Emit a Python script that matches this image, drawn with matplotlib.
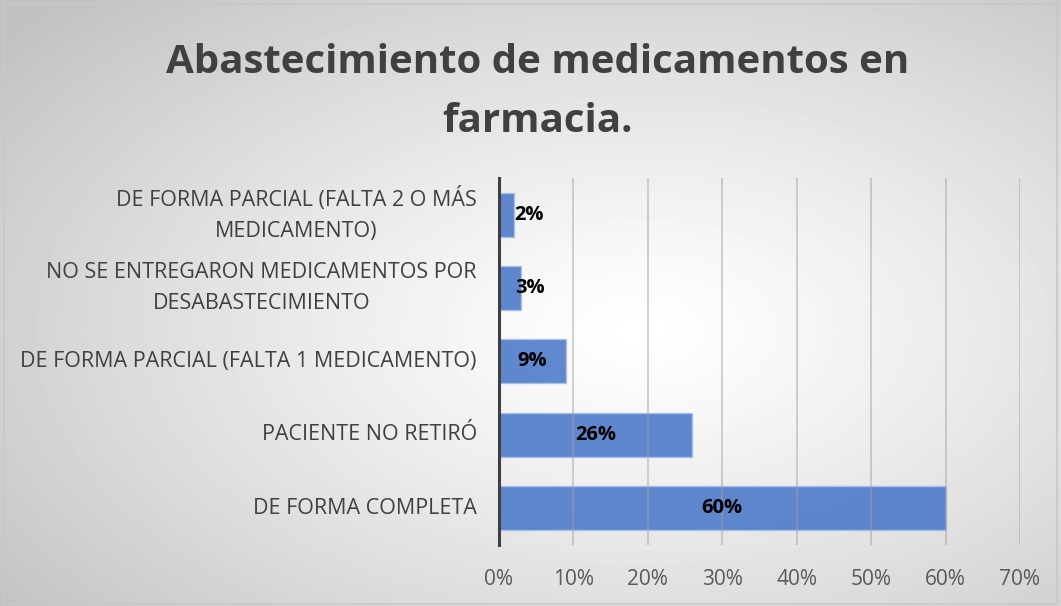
import matplotlib
matplotlib.use("Agg")
import matplotlib.pyplot as plt
import numpy as np
from matplotlib.patches import Rectangle
from matplotlib.ticker import PercentFormatter

categories = [
    "DE FORMA COMPLETA",
    "PACIENTE NO RETIRÓ",
    "DE FORMA PARCIAL (FALTA 1 MEDICAMENTO)",
    "NO SE ENTREGARON MEDICAMENTOS POR\nDESABASTECIMIENTO",
    "DE FORMA PARCIAL (FALTA 2 O MÁS\nMEDICAMENTO)",
]
values = [60, 26, 9, 3, 2]
labels = ["60%", "26%", "9%", "3%", "2%"]
xticks = [0, 10, 20, 30, 40, 50, 60, 70]

plt.rcParams["font.family"] = ["Open Sans", "DejaVu Sans"]

fig = plt.figure(figsize=(10.61, 6.06), dpi=100)

# radial gradient background
bg = fig.add_axes([0, 0, 1, 1], zorder=-10)
yy, xx = np.mgrid[0:606, 0:1061]
r = np.sqrt(((xx - 640) / 1061) ** 2 + ((yy - 330) / 606) ** 2)
shade = np.clip(1 - 0.33 * r ** 1.2, 0.76, 1.0)
bg.imshow(shade, cmap="gray", vmin=0, vmax=1, aspect="auto",
          extent=[0, 1, 0, 1], origin="upper")
bg.add_patch(Rectangle((0.004, 0.004), 0.992, 0.99, fill=False,
                       edgecolor="#c8c8c8", lw=1.2, transform=bg.transAxes))
bg.axis("off")

fig.text(0.507, 0.848, "Abastecimiento de medicamentos en\nfarmacia.",
         ha="center", va="center", fontsize=29, fontweight="bold",
         color="#404040", linespacing=1.65)

ax = fig.add_axes([0.4703, 0.1007, 0.4910, 0.6056])
ax.patch.set_alpha(0)
y = np.arange(len(categories))
ax.barh(y, values, height=0.6, color="#4a78c8", alpha=0.88,
        edgecolor="#a9c0e8", lw=1, zorder=2)
ax.set_xlim(0, 70)
ax.set_ylim(-0.5, 4.5)
ax.set_xticks(xticks)
ax.xaxis.set_major_formatter(PercentFormatter(decimals=0))
ax.set_yticks(y)
ax.set_yticklabels(categories, multialignment="center", linespacing=1.6)
for lbl in ax.get_yticklabels():
    lbl.set_verticalalignment("center")
ax.tick_params(axis="y", length=0, pad=16, labelsize=15.5, labelcolor="#404040")
ax.tick_params(axis="x", length=0, pad=17, labelsize=15, labelcolor="#595959")
ax.grid(axis="x", color="#a0a0a0", lw=1.1, alpha=0.6, zorder=3)
ax.set_axisbelow(False)
for s in ["top", "right", "bottom"]:
    ax.spines[s].set_visible(False)
ax.spines["left"].set_color("#404040")
ax.spines["left"].set_linewidth(2.2)
ax.spines["left"].set_zorder(4)

for yi, v, lab in zip(y, values, labels):
    ax.text(max(v / 2, 4.1), yi, lab, ha="center", va="center",
            fontsize=14.5, fontweight="bold", color="black", zorder=5)

fig.savefig("out.png", dpi=100)
